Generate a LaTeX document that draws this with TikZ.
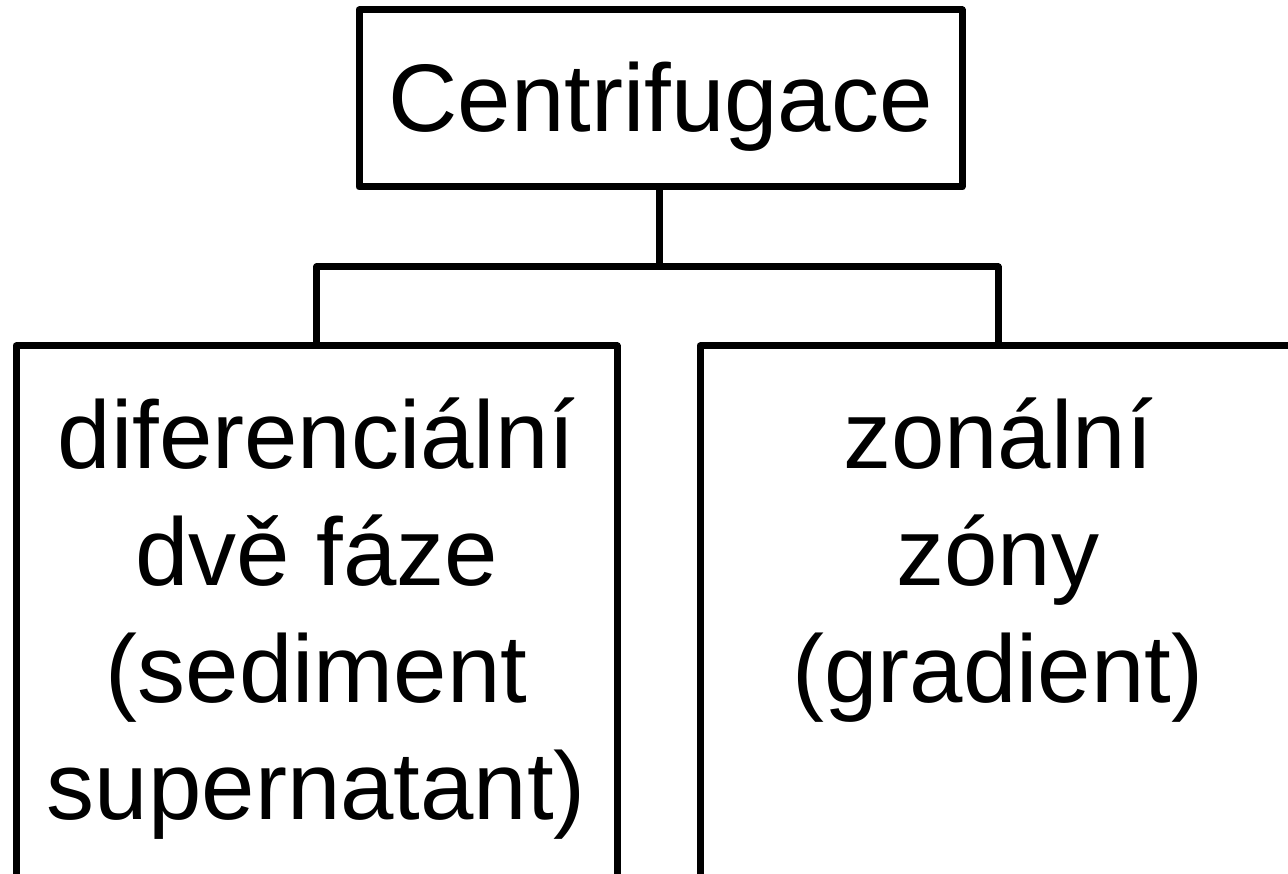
\documentclass[tikz,border=0pt]{standalone}
\usepackage{fontspec}
\setmainfont{Liberation Sans}
\begin{document}
\begin{tikzpicture}[x=1pt,y=-1pt,
  box/.style={draw=black, line width=7pt, line join=round, rectangle,
              inner sep=0pt, outer sep=0pt, anchor=north west},
  txt/.style={anchor=base, inner sep=0pt, font=\fontsize{96}{117}\selectfont},
  wire/.style={draw=black, line width=7pt, line join=round}]
  \clip (0,0) rectangle (1288,874);

  % boxes
  \node[box, minimum width=603pt, minimum height=177pt] (top) at (359,10) {};
  \node[box, minimum width=601pt, minimum height=540pt] (left) at (16,346) {};
  \node[box, minimum width=596pt, minimum height=540pt] (right) at (700,346) {};

  % labels
  \node[txt] (ttop) at (660.5,132) {Centrifugace};

  \node[txt] (l1) at (316.5,468) {diferenciální};
  \node[txt] (l2) at (316.5,585) {dvě fáze};
  \node[txt] (l3) at (316.5,702) {(sediment};
  \node[txt] (l4) at (316.5,819) {supernatant)};

  \node[txt] (r1) at (998,468) {zonální};
  \node[txt] (r2) at (998,585) {zóny};
  \node[txt] (r3) at (998,702) {(gradient)};

  % connectors
  \coordinate (bus) at (659,267);
  \draw[wire] (bus |- top.south) -- (bus);
  \draw[wire] (left.north) |- (bus) -| (right.north);
\end{tikzpicture}
\end{document}
